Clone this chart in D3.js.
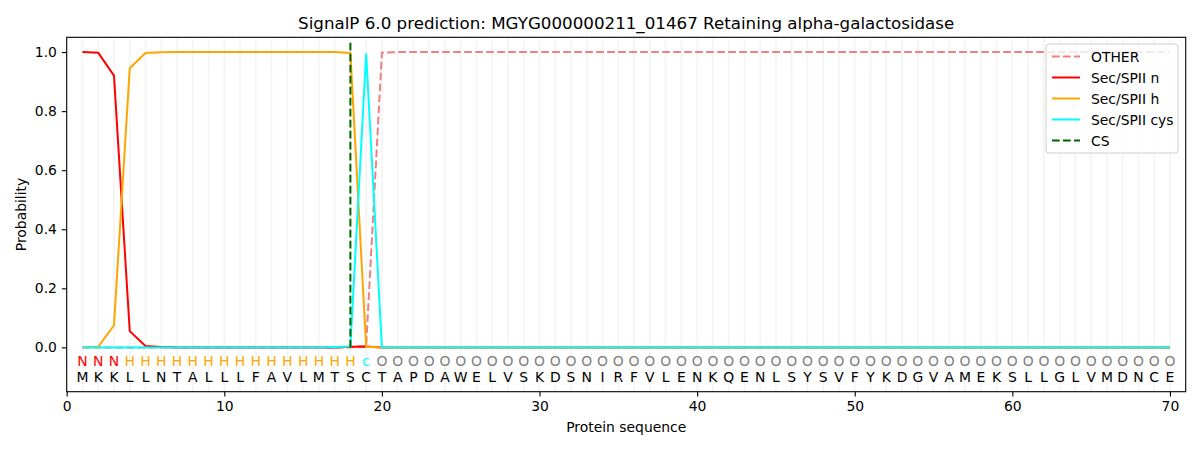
<!DOCTYPE html>
<html>
<head>
<meta charset="utf-8">
<script src="https://cdn.jsdelivr.net/npm/d3@7"></script>
<style>
  body { margin: 0; background: #fff; }
  text { font-family: "DejaVu Sans", sans-serif; }
</style>
</head>
<body>
<svg></svg>
<script>
// residue sequence and per-residue predicted labels
var sequence = "MKKLLNTALLLFAVLMTSCTAPDAWELVSKDSNIRFVLENKQENLSYSVFYKDGVAMEKSLLGLVMDNCE".split("");
var regionLabels = "NNNHHHHHHHHHHHHHHHcOOOOOOOOOOOOOOOOOOOOOOOOOOOOOOOOOOOOOOOOOOOOOOOOOOO".split("");

var other = [
  0, 0, 0, 0, 0, 0, 0, 0, 0, 0,
  0, 0, 0, 0, 0, 0, 0, 0, 0.004, 0.998,
  1, 1, 1, 1, 1, 1, 1, 1, 1, 1,
  1, 1, 1, 1, 1, 1, 1, 1, 1, 1,
  1, 1, 1, 1, 1, 1, 1, 1, 1, 1,
  1, 1, 1, 1, 1, 1, 1, 1, 1, 1,
  1, 1, 1, 1, 1, 1, 1, 1, 1, 1
];
var secN = [
  1.0, 0.998, 0.92, 0.055, 0.005, 0.001, 0, 0, 0, 0,
  0, 0, 0, 0, 0, 0, 0, 0.002, 0.003, 0,
  0, 0, 0, 0, 0, 0, 0, 0, 0, 0,
  0, 0, 0, 0, 0, 0, 0, 0, 0, 0,
  0, 0, 0, 0, 0, 0, 0, 0, 0, 0,
  0, 0, 0, 0, 0, 0, 0, 0, 0, 0,
  0, 0, 0, 0, 0, 0, 0, 0, 0, 0
];
var secH = [
  0, 0.002, 0.075, 0.945, 0.997, 0.999, 1, 1, 1, 1,
  1, 1, 1, 1, 1, 1, 1, 0.997, 0.002, 0,
  0, 0, 0, 0, 0, 0, 0, 0, 0, 0,
  0, 0, 0, 0, 0, 0, 0, 0, 0, 0,
  0, 0, 0, 0, 0, 0, 0, 0, 0, 0,
  0, 0, 0, 0, 0, 0, 0, 0, 0, 0,
  0, 0, 0, 0, 0, 0, 0, 0, 0, 0
];
var secCys = [
  0, 0, 0, 0, 0, 0, 0, 0, 0, 0,
  0, 0, 0, 0, 0, 0, 0.001, 0.003, 0.995, 0,
  0, 0, 0, 0, 0, 0, 0, 0, 0, 0,
  0, 0, 0, 0, 0, 0, 0, 0, 0, 0,
  0, 0, 0, 0, 0, 0, 0, 0, 0, 0,
  0, 0, 0, 0, 0, 0, 0, 0, 0, 0,
  0, 0, 0, 0, 0, 0, 0, 0, 0, 0
];
var csPos = 18;
var xTicks = [0, 10, 20, 30, 40, 50, 60, 70];
var yTicks = [0, 0.2, 0.4, 0.6, 0.8, 1.0];

var svgWidth = 1200;
var svgHeight = 450;
var plotLeft = 66.7, plotRight = 1185.7, plotTop = 37.3, plotBottom = 391.7;

var svg = d3.select("svg")
  .attr("width", svgWidth)
  .attr("height", svgHeight);

var x = d3.scaleLinear().domain([0, 71]).range([plotLeft, plotRight]);
var y = d3.scaleLinear().domain([-0.15, 1.05]).range([plotBottom, plotTop]);

var positions = sequence.map(function(d, i) { return i + 1; });

// faint vertical grid at every residue
svg.append("g")
  .selectAll("line")
  .data(positions)
  .enter()
  .append("line")
  .attr("x1", function(d) { return x(d); })
  .attr("x2", function(d) { return x(d); })
  .attr("y1", plotTop)
  .attr("y2", plotBottom)
  .attr("stroke", "#f4f4f4")
  .attr("stroke-width", 1.6);

var series = [
  { name: "OTHER", values: other, color: "#f08080", dash: "7.7,3.3" },
  { name: "Sec/SPII n", values: secN, color: "#ff0000", dash: null },
  { name: "Sec/SPII h", values: secH, color: "#ffa500", dash: null },
  { name: "Sec/SPII cys", values: secCys, color: "#00ffff", dash: null }
];

var line = d3.line()
  .x(function(d, i) { return x(i + 1); })
  .y(function(d) { return y(d); });

svg.append("g")
  .selectAll("path")
  .data(series)
  .enter()
  .append("path")
  .attr("d", function(s) { return line(s.values); })
  .attr("fill", "none")
  .attr("stroke", function(s) { return s.color; })
  .attr("stroke-width", 2)
  .attr("stroke-dasharray", function(s) { return s.dash; });

// cleavage site
svg.append("line")
  .attr("x1", x(csPos))
  .attr("x2", x(csPos))
  .attr("y1", y(0))
  .attr("y2", y(1.04))
  .attr("stroke", "#006400")
  .attr("stroke-width", 2)
  .attr("stroke-dasharray", "7.7,3.3");

// sequence annotation
var labelColor = { N: "#ff0000", H: "#ffa500", c: "#00ffff", O: "#808080" };

svg.append("g")
  .selectAll("text")
  .data(regionLabels)
  .enter()
  .append("text")
  .attr("x", function(d, i) { return x(i + 1); })
  .attr("y", y(-0.047))
  .attr("dy", "0.36em")
  .attr("text-anchor", "middle")
  .attr("font-size", "13.9px")
  .attr("fill", function(d) { return labelColor[d]; })
  .text(function(d) { return d; });

svg.append("g")
  .selectAll("text")
  .data(sequence)
  .enter()
  .append("text")
  .attr("x", function(d, i) { return x(i + 1); })
  .attr("y", y(-0.099))
  .attr("dy", "0.36em")
  .attr("text-anchor", "middle")
  .attr("font-size", "13.9px")
  .attr("fill", "#000")
  .text(function(d) { return d; });

// axes
var xAxis = d3.axisBottom(x).tickValues(xTicks).tickSize(4.9).tickPadding(4.9)
  .tickFormat(d3.format("d"));
var yAxis = d3.axisLeft(y).tickValues(yTicks).tickSize(4.9).tickPadding(4.9)
  .tickFormat(d3.format(".1f"));

var gx = svg.append("g")
  .attr("transform", "translate(0," + plotBottom + ")")
  .call(xAxis);
var gy = svg.append("g")
  .attr("transform", "translate(" + plotLeft + ",0)")
  .call(yAxis);

[gx, gy].forEach(function(g) {
  g.select(".domain").remove();
  g.selectAll("text").attr("font-size", "13.9px").attr("fill", "#000")
    .attr("font-family", "DejaVu Sans, sans-serif");
  g.selectAll("line").attr("stroke", "#000").attr("stroke-width", 1.1);
});

svg.append("rect")
  .attr("x", plotLeft)
  .attr("y", plotTop)
  .attr("width", plotRight - plotLeft)
  .attr("height", plotBottom - plotTop)
  .attr("fill", "none")
  .attr("stroke", "#000")
  .attr("stroke-width", 1.1);

svg.append("text")
  .attr("x", (plotLeft + plotRight) / 2)
  .attr("y", 432)
  .attr("text-anchor", "middle")
  .attr("font-size", "13.9px")
  .text("Protein sequence");

svg.append("text")
  .attr("transform", "translate(26," + ((plotTop + plotBottom) / 2) + ") rotate(-90)")
  .attr("text-anchor", "middle")
  .attr("font-size", "13.9px")
  .text("Probability");

svg.append("text")
  .attr("x", (plotLeft + plotRight) / 2)
  .attr("y", 29)
  .attr("text-anchor", "middle")
  .attr("font-size", "16.7px")
  .text("SignalP 6.0 prediction: MGYG000000211_01467 Retaining alpha-galactosidase");

// legend
var legendItems = series.concat([{ name: "CS", color: "#006400", dash: "7.7,3.3" }]);

var legend = svg.append("g").attr("transform", "translate(1046,44)");
legend.append("rect")
  .attr("width", 132)
  .attr("height", 109)
  .attr("rx", 3)
  .attr("fill", "#fff")
  .attr("fill-opacity", 0.8)
  .attr("stroke", "#cccccc");

var rows = legend.selectAll("g.item")
  .data(legendItems)
  .enter()
  .append("g")
  .attr("class", "item")
  .attr("transform", function(d, i) { return "translate(0," + (12.5 + i * 21) + ")"; });

rows.append("line")
  .attr("x1", 6)
  .attr("x2", 34)
  .attr("stroke", function(d) { return d.color; })
  .attr("stroke-width", 2)
  .attr("stroke-dasharray", function(d) { return d.dash; });

rows.append("text")
  .attr("x", 45)
  .attr("dy", "0.36em")
  .attr("font-size", "13.9px")
  .text(function(d) { return d.name; });
</script>
</body>
</html>
